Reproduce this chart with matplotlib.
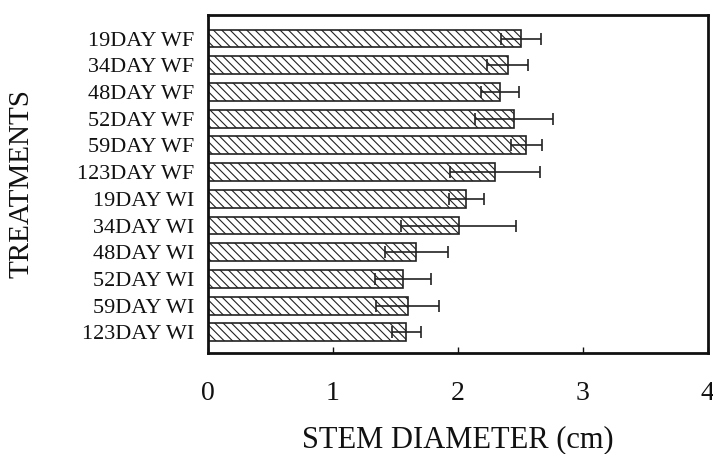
import matplotlib
matplotlib.use("Agg")
import matplotlib.pyplot as plt
import numpy as np

treatments = ["19DAY WF", "34DAY WF", "48DAY WF", "52DAY WF", "59DAY WF", "123DAY WF",
              "19DAY WI", "34DAY WI", "48DAY WI", "52DAY WI", "59DAY WI", "123DAY WI"]
stem_diameter = [2.51, 2.40, 2.34, 2.45, 2.55, 2.30, 2.07, 2.01, 1.67, 1.56, 1.60, 1.59]
stem_error = [0.16, 0.165, 0.15, 0.31, 0.125, 0.36, 0.14, 0.46, 0.255, 0.225, 0.25, 0.115]
x_ticks = [0, 1, 2, 3, 4]

plt.rcParams['font.family'] = ['Liberation Serif', 'DejaVu Serif']
plt.rcParams['hatch.linewidth'] = 0.8
plt.rcParams['hatch.color'] = '#222222'

W, H = 713, 454
fig = plt.figure(figsize=(W / 100, H / 100), dpi=100)
left, right, top, bottom = 207.7, 707.7, 15, 353
ax = fig.add_axes([left / W, 1 - bottom / H, (right - left) / W, (bottom - top) / H])

y = np.arange(len(treatments))
ax.barh(y, stem_diameter, height=0.67, color='white', edgecolor='#222222',
        linewidth=1.2, hatch='\\\\\\\\', zorder=2)
ax.errorbar(stem_diameter, y, xerr=stem_error, fmt='none', ecolor='#222222',
            elinewidth=1.2, capsize=4, capthick=1.2, zorder=3)

ax.set_xlim(0, 4)
ax.set_ylim(len(treatments) - 1 + 0.77, -0.88)
ax.set_xticks(x_ticks)
ax.set_xticklabels([str(t) for t in x_ticks], fontsize=20)
ax.set_yticks(y)
ax.set_yticklabels(treatments, fontsize=16)
ax.tick_params(axis='x', direction='in', length=4, width=1, pad=20, colors='#111111')
ax.tick_params(axis='y', length=0, pad=10, colors='#111111')
for s in ax.spines.values():
    s.set_linewidth(2)
    s.set_color('#111111')

ax.set_xlabel("STEM DIAMETER (cm)", fontsize=22, va='center', color='#111111')
ax.xaxis.set_label_coords(0.5, (bottom - 440) / (bottom - top))
ax.set_ylabel("TREATMENTS", fontsize=21, va='center', ha='center', color='#111111')
ax.yaxis.set_label_coords((22 - left) / (right - left), 0.5)

fig.savefig("out.png", dpi=100)
